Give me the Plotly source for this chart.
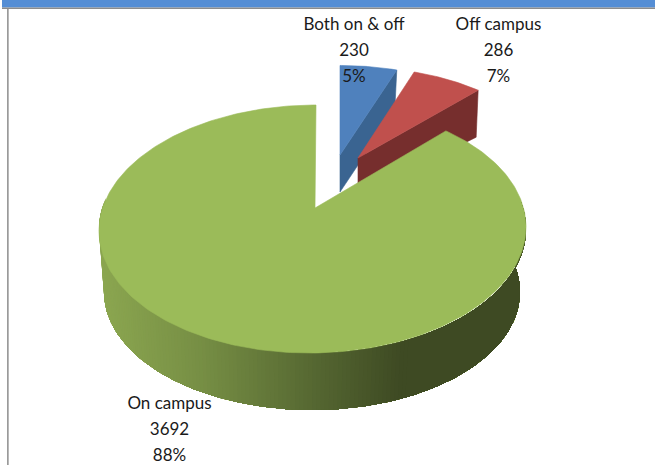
import math
import plotly.graph_objects as go

# ---- data ----
categories = ["Both on & off", "Off campus", "On campus"]
values = [230, 286, 3692]
percents = ["5%", "7%", "88%"]

# ---- styling ----
top_colors = ["#4F81BD", "#C0504D", "#9BBB59"]
wall_colors = ["#3A6491", "#762E2D", None]
label_centers = [(354, 25.5), (498.5, 25.5), (169.5, 404.5)]
line_gap = 26

W, H = 655, 465
K = 0.17  # perspective shift of the pie centre
A, B = 213.5, 124       # top-face radii
A2, B2 = 208, 118       # bottom-face radii
CX, CY = 312.5, 229     # top-face centre
CX2, CY2 = 312, 292     # bottom-face centre
# per-slice explosion: apex, x scale, y scale, wall depth at apex, wall depth at rim
explode = [
    dict(ax=340, ay=155, sx=0.93, sy=0.87, d0=37, d1=40),
    dict(ax=358, ay=158, sx=0.92, sy=0.88, d0=38, d1=47),
]


def persp(theta):
    """Unit-circle point at a clockwise-from-top angle, under perspective."""
    x, y = math.sin(theta), math.cos(theta)
    den = 1 + K * y
    return x * math.sqrt(1 - K * K) / den, (y + K) / den


total = sum(values)
edges = [0.0]
for v in values:
    edges.append(edges[-1] + v / total * 2 * math.pi)


def arc(t0, t1, n):
    return [t0 + (t1 - t0) * i / n for i in range(n + 1)]


def poly(xs, ys, color, lw=0.6):
    return go.Scatter(x=xs + xs[:1], y=ys + ys[:1], mode="lines", fill="toself",
                      fillcolor=color, line=dict(color=color, width=lw),
                      hoverinfo="skip", showlegend=False)


fig = go.Figure()

# exploded slices (blue and red)
for i in range(2):
    e = explode[i]
    t0, t1 = edges[i], edges[i + 1]
    rim = []
    for t in arc(t0, t1, 40):
        px, py = persp(t)
        rim.append((e["ax"] + e["sx"] * A * px, e["ay"] - e["sy"] * B * (py - K)))
    # end wall of the slice
    ex, ey = rim[-1]
    fig.add_trace(poly([e["ax"], ex, ex - 2, e["ax"]],
                       [e["ay"], ey, ey + e["d1"], e["ay"] + e["d0"]], wall_colors[i]))
    fig.add_trace(poly([e["ax"]] + [p[0] for p in rim], [e["ay"]] + [p[1] for p in rim], top_colors[i]))

# green outer wall, shaded left to right; each band overpaints the rest, so no seams


def wall_color(x):
    stops = [(100, (139, 166, 80)), (200, (118, 142, 68)), (310, (86, 104, 50)),
             (400, (62, 74, 35)), (530, (62, 74, 35))]
    for (x0, c0), (x1, c1) in zip(stops, stops[1:]):
        if x <= x1:
            f = max(0, (x - x0) / (x1 - x0))
            return "rgb(%d,%d,%d)" % tuple(round(a + (b - a) * f) for a, b in zip(c0, c1))
    return "rgb(62,74,35)"


strip = arc(math.pi * 0.42, math.pi * 1.58, 180)
# walk from the left side (large angle) to the right side
strip.reverse()
pts = []
for t in strip:
    pts.append((CX + A * math.sin(t), CY - B * math.cos(t),
                CX2 + A2 * math.sin(t), CY2 - B2 * math.cos(t)))
for i in range(len(pts) - 1):
    rest = pts[i:]
    if rest[0][0] > 405 and pts[i - 1][0] > 405:
        break  # colour is flat from here on
    fig.add_trace(poly([p[0] for p in rest] + [p[2] for p in reversed(rest)],
                       [p[1] for p in rest] + [p[3] for p in reversed(rest)],
                       wall_color(rest[0][0]), lw=0))

# green top face
rim = []
for t in arc(edges[2], edges[3], 300):
    px, py = persp(t)
    rim.append((CX + A * px + 3.5 * py, CY - B * py))
fig.add_trace(poly([315] + [p[0] for p in rim], [208] + [p[1] for p in rim], top_colors[2]))

# labels
lx, ly, lt = [], [], []
for name, val, pct, (cx, cy) in zip(categories, values, percents, label_centers):
    for j, s in enumerate([name, str(val), pct]):
        lx.append(cx)
        ly.append(cy + j * line_gap)
        lt.append(s)
fig.add_trace(go.Scatter(x=lx, y=ly, mode="text", text=lt, textposition="middle center",
                         textfont=dict(family="Lato, Liberation Sans", size=17, color="#1a1a1a"),
                         hoverinfo="skip", showlegend=False, cliponaxis=False))

fig.update_layout(
    width=W, height=H, autosize=False, margin=dict(l=0, r=0, t=0, b=0),
    paper_bgcolor="white", plot_bgcolor="white",
    xaxis=dict(range=[0, W], visible=False, fixedrange=True),
    yaxis=dict(range=[H, 0], visible=False, fixedrange=True),
    shapes=[
        dict(type="rect", x0=2, x1=W, y0=0, y1=7.5, fillcolor="#558ED5", line_width=0, layer="above"),
        dict(type="rect", x0=2, x1=W, y0=7.5, y1=9, fillcolor="#8C8C8C", line_width=0, layer="above"),
        dict(type="rect", x0=7, x1=8.7, y0=9, y1=H, fillcolor="#9A9A9A", line_width=0, layer="above"),
    ],
)
fig.write_html("out.html", config={"displayModeBar": False},
               post_script="document.body.style.margin='0';document.body.style.overflow='hidden';")
